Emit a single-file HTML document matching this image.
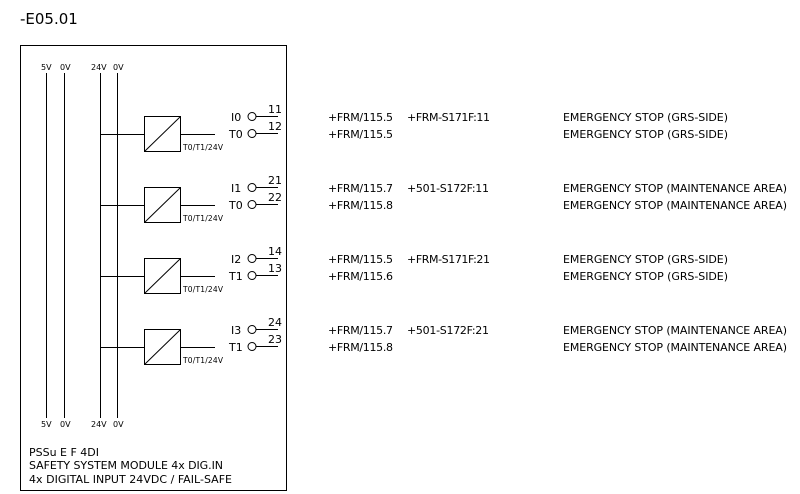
<!DOCTYPE html>
<html><head><meta charset="utf-8"><style>
html,body{margin:0;padding:0;background:#fff;}
svg{display:block;font-family:"DejaVu Sans","Liberation Sans",sans-serif;}
</style></head><body>
<svg width="800" height="494" viewBox="0 0 800 494" xmlns="http://www.w3.org/2000/svg">
<text x="20" y="24" font-size="15" fill="#000">-E05.01</text>
<rect x="20.5" y="45.5" width="266" height="445" fill="none" stroke="#000" stroke-width="1"/>
<g stroke="#000" stroke-width="1">
<line x1="46.5" y1="73" x2="46.5" y2="418"/>
<line x1="64.5" y1="73" x2="64.5" y2="418"/>
<line x1="100.5" y1="73" x2="100.5" y2="418"/>
<line x1="117.5" y1="73" x2="117.5" y2="418"/>
</g>
<g font-size="8" fill="#000">
<text x="41" y="70">5V</text><text x="60" y="70">0V</text>
<text x="91" y="70">24V</text><text x="113" y="70">0V</text>
<text x="41" y="427">5V</text><text x="60" y="427">0V</text>
<text x="91" y="427">24V</text><text x="113" y="427">0V</text>
</g>
<g stroke="#000" stroke-width="1" fill="none">
<g transform="translate(0,0)">
<line x1="100" y1="134.5" x2="144" y2="134.5"/><rect x="144.5" y="116.5" width="36" height="35"/><line x1="145" y1="151" x2="180" y2="117"/><line x1="181" y1="134.5" x2="215" y2="134.5"/>
<circle cx="252" cy="116.5" r="4"/><line x1="256" y1="116.5" x2="278" y2="116.5"/>
<circle cx="252" cy="133.5" r="4"/><line x1="256" y1="133.5" x2="278" y2="133.5"/>
</g>
<g transform="translate(0,71)">
<line x1="100" y1="134.5" x2="144" y2="134.5"/><rect x="144.5" y="116.5" width="36" height="35"/><line x1="145" y1="151" x2="180" y2="117"/><line x1="181" y1="134.5" x2="215" y2="134.5"/>
<circle cx="252" cy="116.5" r="4"/><line x1="256" y1="116.5" x2="278" y2="116.5"/>
<circle cx="252" cy="133.5" r="4"/><line x1="256" y1="133.5" x2="278" y2="133.5"/>
</g>
<g transform="translate(0,142)">
<line x1="100" y1="134.5" x2="144" y2="134.5"/><rect x="144.5" y="116.5" width="36" height="35"/><line x1="145" y1="151" x2="180" y2="117"/><line x1="181" y1="134.5" x2="215" y2="134.5"/>
<circle cx="252" cy="116.5" r="4"/><line x1="256" y1="116.5" x2="278" y2="116.5"/>
<circle cx="252" cy="133.5" r="4"/><line x1="256" y1="133.5" x2="278" y2="133.5"/>
</g>
<g transform="translate(0,213)">
<line x1="100" y1="134.5" x2="144" y2="134.5"/><rect x="144.5" y="116.5" width="36" height="35"/><line x1="145" y1="151" x2="180" y2="117"/><line x1="181" y1="134.5" x2="215" y2="134.5"/>
<circle cx="252" cy="116.5" r="4"/><line x1="256" y1="116.5" x2="278" y2="116.5"/>
<circle cx="252" cy="133.5" r="4"/><line x1="256" y1="133.5" x2="278" y2="133.5"/>
</g>
</g>
<g font-size="7.5" fill="#000">
<text x="183" y="150" textLength="40">T0/T1/24V</text>
<text x="183" y="221" textLength="40">T0/T1/24V</text>
<text x="183" y="292" textLength="40">T0/T1/24V</text>
<text x="183" y="363" textLength="40">T0/T1/24V</text>
</g>
<g font-size="11" fill="#000">
<text x="231" y="121">I0</text><text x="229" y="138">T0</text><text x="268" y="113">11</text><text x="268" y="130">12</text>
<text x="231" y="192">I1</text><text x="229" y="209">T0</text><text x="268" y="184">21</text><text x="268" y="201">22</text>
<text x="231" y="263">I2</text><text x="229" y="280">T1</text><text x="268" y="255">14</text><text x="268" y="272">13</text>
<text x="231" y="334">I3</text><text x="229" y="351">T1</text><text x="268" y="326">24</text><text x="268" y="343">23</text>
</g>
<g font-size="11" fill="#000">
<text x="328" y="121" textLength="65">+FRM/115.5</text><text x="407" y="121" textLength="83">+FRM-S171F:11</text><text x="563" y="121" textLength="165">EMERGENCY STOP (GRS-SIDE)</text>
<text x="328" y="138" textLength="65">+FRM/115.5</text><text x="563" y="138" textLength="165">EMERGENCY STOP (GRS-SIDE)</text>
<text x="328" y="192" textLength="65">+FRM/115.7</text><text x="407" y="192" textLength="82">+501-S172F:11</text><text x="563" y="192" textLength="224">EMERGENCY STOP (MAINTENANCE AREA)</text>
<text x="328" y="209" textLength="65">+FRM/115.8</text><text x="563" y="209" textLength="224">EMERGENCY STOP (MAINTENANCE AREA)</text>
<text x="328" y="263" textLength="65">+FRM/115.5</text><text x="407" y="263" textLength="83">+FRM-S171F:21</text><text x="563" y="263" textLength="165">EMERGENCY STOP (GRS-SIDE)</text>
<text x="328" y="280" textLength="65">+FRM/115.6</text><text x="563" y="280" textLength="165">EMERGENCY STOP (GRS-SIDE)</text>
<text x="328" y="334" textLength="65">+FRM/115.7</text><text x="407" y="334" textLength="82">+501-S172F:21</text><text x="563" y="334" textLength="224">EMERGENCY STOP (MAINTENANCE AREA)</text>
<text x="328" y="351" textLength="65">+FRM/115.8</text><text x="563" y="351" textLength="224">EMERGENCY STOP (MAINTENANCE AREA)</text>
</g>
<g font-size="11" fill="#000">
<text x="29" y="456" textLength="70">PSSu E F 4DI</text>
<text x="29" y="469" textLength="194">SAFETY SYSTEM MODULE 4x DIG.IN</text>
<text x="29" y="483" textLength="203">4x DIGITAL INPUT 24VDC / FAIL-SAFE</text>
</g>
</svg>
</body></html>
